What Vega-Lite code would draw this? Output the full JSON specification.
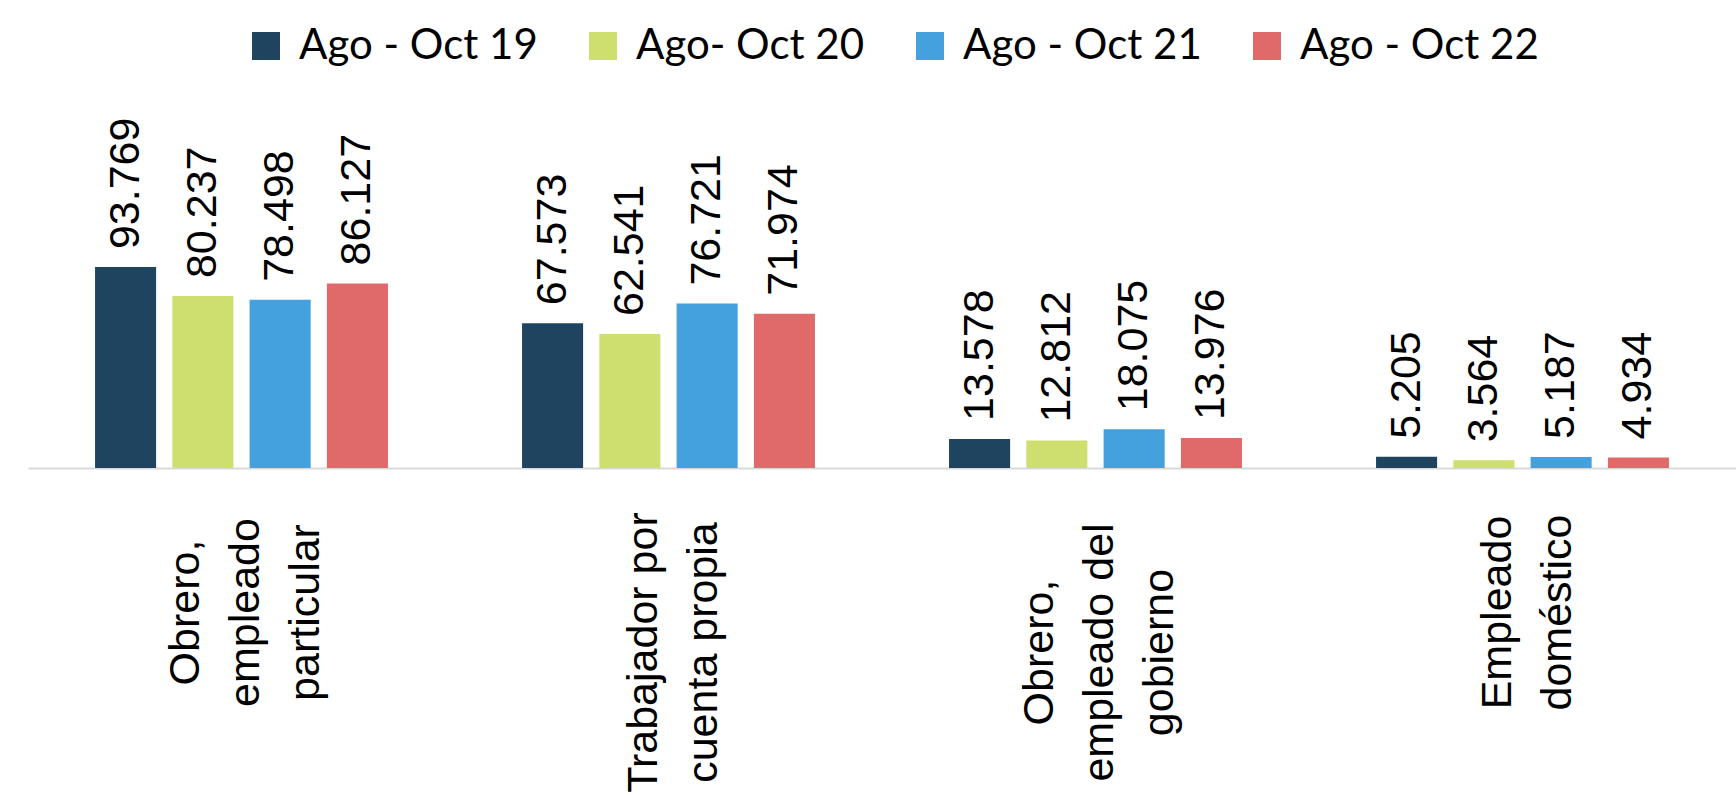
{
  "$schema": "https://vega.github.io/schema/vega-lite/v6.json",
  "autosize": {"type": "none"},
  "width": 1708,
  "height": 375,
  "padding": {"left": 28, "top": 93, "right": 0, "bottom": 330},
  "background": "white",
  "config": {
    "view": {"stroke": null},
    "locale": {"number": {"decimal": ",", "thousands": ".", "grouping": [3], "currency": ["$", ""]}}
  },
  "data": {
    "values": [
      {"categoria": "Obrero, empleado particular", "periodo": "Ago - Oct 19", "valor": 93769},
      {"categoria": "Obrero, empleado particular", "periodo": "Ago- Oct 20", "valor": 80237},
      {"categoria": "Obrero, empleado particular", "periodo": "Ago - Oct 21", "valor": 78498},
      {"categoria": "Obrero, empleado particular", "periodo": "Ago - Oct 22", "valor": 86127},
      {"categoria": "Trabajador por cuenta propia", "periodo": "Ago - Oct 19", "valor": 67573},
      {"categoria": "Trabajador por cuenta propia", "periodo": "Ago- Oct 20", "valor": 62541},
      {"categoria": "Trabajador por cuenta propia", "periodo": "Ago - Oct 21", "valor": 76721},
      {"categoria": "Trabajador por cuenta propia", "periodo": "Ago - Oct 22", "valor": 71974},
      {"categoria": "Obrero, empleado del gobierno", "periodo": "Ago - Oct 19", "valor": 13578},
      {"categoria": "Obrero, empleado del gobierno", "periodo": "Ago- Oct 20", "valor": 12812},
      {"categoria": "Obrero, empleado del gobierno", "periodo": "Ago - Oct 21", "valor": 18075},
      {"categoria": "Obrero, empleado del gobierno", "periodo": "Ago - Oct 22", "valor": 13976},
      {"categoria": "Empleado doméstico", "periodo": "Ago - Oct 19", "valor": 5205},
      {"categoria": "Empleado doméstico", "periodo": "Ago- Oct 20", "valor": 3564},
      {"categoria": "Empleado doméstico", "periodo": "Ago - Oct 21", "valor": 5187},
      {"categoria": "Empleado doméstico", "periodo": "Ago - Oct 22", "valor": 4934}
    ]
  },
  "encoding": {
    "x": {
      "field": "categoria",
      "type": "nominal",
      "sort": null,
      "scale": {"paddingInner": 0.276, "paddingOuter": 0.138},
      "axis": {
        "title": null,
        "ticks": false,
        "domainColor": "#D9D9D9",
        "domainWidth": 2,
        "labelAngle": -90,
        "labelAlign": "center",
        "labelBaseline": "middle",
        "labelFont": "Liberation Sans",
        "labelFontSize": 43,
        "labelColor": "#000000",
        "labelLimit": 0,
        "labelLineHeight": 60,
        "labelOffset": {"condition": {"test": "datum.value == 'Trabajador por cuenta propia' || datum.value == 'Empleado doméstico'", "value": -25}, "value": -56},
        "labelPadding": {"condition": {"test": "datum.value == 'Trabajador por cuenta propia' || datum.value == 'Obrero, empleado del gobierno'", "value": 184}, "value": 144},
        "labelExpr": "datum.value == 'Obrero, empleado particular' ? ['Obrero,', 'empleado', 'particular'] : datum.value == 'Trabajador por cuenta propia' ? ['Trabajador por', 'cuenta propia'] : datum.value == 'Obrero, empleado del gobierno' ? ['Obrero,', 'empleado del', 'gobierno'] : ['Empleado', 'doméstico']"
      }
    },
    "xOffset": {
      "field": "periodo",
      "type": "nominal",
      "sort": ["Ago - Oct 19", "Ago- Oct 20", "Ago - Oct 21", "Ago - Oct 22"],
      "scale": {"paddingInner": 0.21, "paddingOuter": 0.105}
    },
    "y": {
      "field": "valor",
      "type": "quantitative",
      "scale": {"domain": [0, 175000], "nice": false},
      "axis": null
    }
  },
  "layer": [
    {
      "mark": {"type": "bar"},
      "encoding": {
        "color": {
          "field": "periodo",
          "type": "nominal",
          "sort": ["Ago - Oct 19", "Ago- Oct 20", "Ago - Oct 21", "Ago - Oct 22"],
          "scale": {"domain": ["Ago - Oct 19", "Ago- Oct 20", "Ago - Oct 21", "Ago - Oct 22"], "range": ["#1F4460", "#CEDF6F", "#45A1DD", "#E06A6A"]},
          "legend": {
            "title": null,
            "orient": "none",
            "legendX": 217,
            "legendY": -68,
            "direction": "horizontal",
            "columns": 4,
            "symbolType": "square",
            "symbolSize": 784,
            "symbolStrokeWidth": 0,
            "labelFont": "Lato",
            "labelFontSize": 42,
            "labelColor": "#000000",
            "labelOffset": 12,
            "labelLimit": 0,
            "columnPadding": 44
          }
        }
      }
    },
    {
      "mark": {"type": "text", "angle": -90, "align": "left", "baseline": "middle", "dx": 18, "font": "Liberation Sans", "fontSize": 43, "color": "#000000"},
      "encoding": {
        "text": {"field": "valor", "type": "quantitative", "format": ","}
      }
    }
  ]
}
